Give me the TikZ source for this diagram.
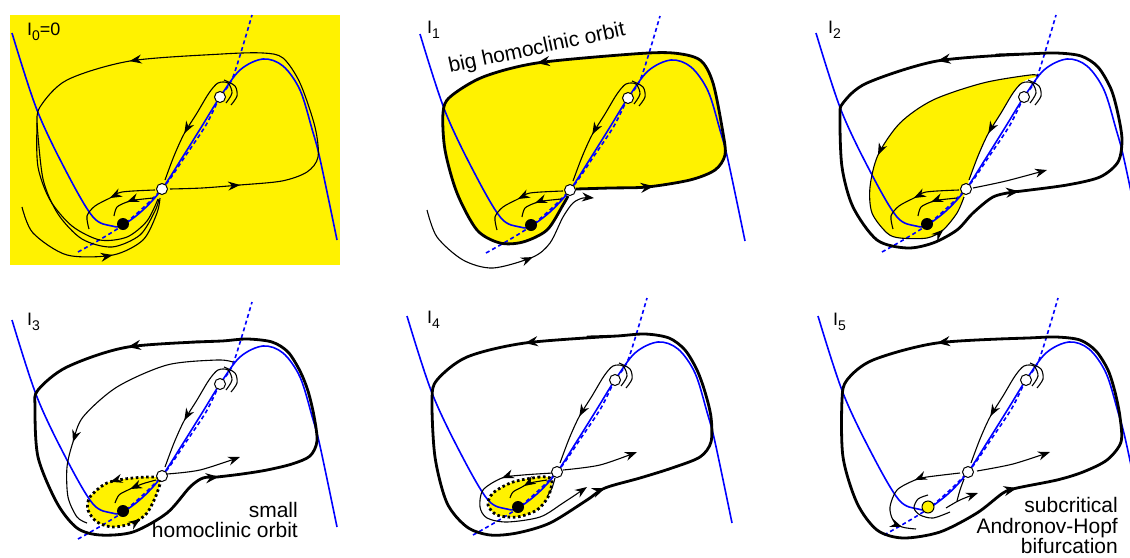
\documentclass[tikz,border=0pt]{standalone}
\usepackage{fontspec}
\setmainfont{Liberation Sans}
\usetikzlibrary{arrows.meta,decorations.markings}
\tikzset{
  bluecurve/.style={draw=blue, line width=1.6pt},
  dashblue/.style={draw=blue, line width=1.6pt, dash pattern=on 4pt off 3pt},
  traj/.style={draw=black, line width=1.1pt},
  bigorbit/.style={draw=black, line width=2.8pt},
  dotorbit/.style={draw=black, line width=2.8pt, dash pattern=on 2.6pt off 2.6pt},
  ah/.tip={Stealth[length=12pt,width=9pt]},
  ahb/.tip={Stealth[length=13pt,width=10pt]},
  arr/.style={postaction={decorate, decoration={markings, mark=at position #1 with {\arrow{ah}}}}},
  arrr/.style 2 args={postaction={decorate, decoration={markings, mark=at position #1 with {\arrow{ah}}, mark=at position #2 with {\arrow{ah}}}}},
  barrr/.style 2 args={postaction={decorate, decoration={markings, mark=at position #1 with {\arrow{ahb}}, mark=at position #2 with {\arrow{ahb}}}}},
  fp/.style={circle, draw=black, line width=1pt, minimum size=11pt, inner sep=0pt, fill=white},
  dotn/.style={circle, fill=black, minimum size=12pt, inner sep=0pt},
  lbl/.style={font=\fontsize{21}{21}\selectfont, inner sep=0pt},
  ilbl/.style={font=\fontsize{18}{18}\selectfont, inner sep=0pt},
}
\newcommand{\Ilab}[1]{I\raisebox{-5pt}{\fontsize{14}{14}\selectfont #1}}
\newcommand{\pNull}{%
  \draw[bluecurve] plot[smooth, tension=0.55] coordinates {(-150,-156) (-125,-79) (-95,-16) (-69,28) (-50,37) (-39,36) (-19,21) (0,0) (20,-31) (40,-63) (58,-92) (78,-119) (101,-130) (121,-123) (138,-99) (150,-60) (158,-30) (175,51)};
  \draw[dashblue] plot[smooth] coordinates {(-84,63) (-39,36) (0,0) (24,-34) (44,-64) (58,-92) (71,-112) (90,-174)};
}
\newcommand{\pUman}{%
  \draw[traj, arr=0.65] plot[smooth] coordinates {(64,-86) (70,-96) (66,-106) (56,-106) (47,-96) (35,-76) (22,-55) (12,-33) (3,-9)};
  \draw[traj] plot[smooth] coordinates {(62,-109) (73,-103) (75,-93) (69,-84)};
}
\newcommand{\pArcs}{%
  \draw[traj, arr=0.52] plot[smooth] coordinates {(-7,1) (-40,3) (-52,9) (-67,17) (-75,27) (-73,40)};
  \draw[traj, arr=0.56] plot[smooth] coordinates {(-9,9) (-27,11) (-35,13) (-45,18) (-48,27)};
}
\begin{document}
\begin{tikzpicture}[x=1pt,y=-1pt]
\useasboundingbox (0,0) rectangle (1130,557);
\fill[yellow] (10,15) rectangle (340,265);

% ---------- panel I0 ----------
\begin{scope}[shift={(162,189)}, name prefix=a-]
\pNull
\draw[traj, arrr={0.092}{0.55}] plot[smooth] coordinates {(8,0) (40,-1) (78,-4) (120,-8) (145,-17) (156,-32) (153,-62) (138,-106) (121,-131) (101,-136) (60,-135) (-32,-128) (-95,-109) (-122,-82) (-125,-62) (-124,-22) (-112,11) (-90,37) (-62,51) (-35,48) (-15,32) (-4,10)};
\draw[traj] plot[smooth] coordinates {(-125,-66) (-119,-10) (-104,25) (-80,50) (-50,58) (-22,46) (-7,22) (-3,10)};
\draw[traj, arr=0.59] plot[smooth] coordinates {(-140,18) (-129,44) (-95,66) (-49,66) (-19,51) (-5,24) (-2,9)};
\pArcs
\pUman
\node[fp] (s) at (0,0) {};
\node[fp] (u) at (58,-92) {};
\node[dotn] (d) at (-39,35) {};
\end{scope}
\node[ilbl, anchor=base west] (l0) at (27,35) {\Ilab{0}=0};

% ---------- panel I1 ----------
\begin{scope}[shift={(570,190)}, name prefix=b-]
\fill[yellow] plot[smooth cycle] coordinates {(0,0) (40,-2) (77,-3) (120,-10) (145,-20) (155,-35) (153,-57) (143,-107) (130,-130) (103,-137) (63,-136) (-33,-127) (-87,-113) (-120,-93) (-127,-77) (-125,-40) (-113,3) (-93,40) (-70,53) (-47,52) (-23,40) (-7,15)};
\pNull
\draw[traj, arr=0.6, -{ah}] plot[smooth] coordinates {(-143,20) (-133,47) (-107,70) (-77,78) (-37,67) (-20,53) (-7,27) (3,13) (13,8) (24,8)};
\pArcs
\pUman
\draw[bigorbit, barrr={0.1}{0.546}] plot[smooth] coordinates {(6,-1) (40,-2) (77,-3) (120,-10) (145,-20) (155,-35) (153,-57) (143,-107) (130,-130) (103,-137) (63,-136) (-33,-127) (-87,-113) (-120,-93) (-127,-77) (-125,-40) (-113,3) (-93,40) (-70,53) (-47,52) (-23,40) (-7,15) (-2,6)};
\node[fp] (s) at (0,0) {};
\node[fp] (u) at (58,-92) {};
\node[dotn] (d) at (-39,35) {};
\end{scope}
\node[ilbl, anchor=base west] (l1) at (427,33) {\Ilab{1}};
\node[lbl, rotate=12] (bho) at (537,49) {big homoclinic orbit};

% ---------- panel I2 ----------
\begin{scope}[shift={(966,189)}, name prefix=c-]
\fill[yellow] plot[smooth cycle] coordinates {(72,-113) (64,-114) (17,-106) (-33,-89) (-66,-66) (-88,-34) (-96,-2) (-94,24) (-79,44) (-66,49) (-39,49) (-23,41) (-9,24) (0,2) (3,-9) (12,-33) (22,-55) (35,-76) (47,-96) (58,-108)};
\pNull
\draw[traj, arrr={0.507}{0.895}] plot[smooth] coordinates {(72,-113) (64,-114) (17,-106) (-33,-89) (-66,-66) (-88,-34) (-96,-2) (-94,24) (-79,44) (-66,49) (-39,49) (-23,41) (-9,24) (-2,8)};
\pArcs
\pUman
\draw[traj, -{ah}] plot[smooth] coordinates {(7,-1) (40,-8) (81,-19)};
\draw[bigorbit, barrr={0.109}{0.617}] plot[smooth] coordinates {(60,-135) (-29,-128) (-99,-106) (-123,-86) (-126,-72) (-124,-22) (-113,18) (-89,51) (-59,59) (-33,54) (-9,41) (7,24) (27,8) (47,3) (56,2) (101,-4) (134,-12) (152,-27) (156,-49) (152,-75) (145,-100) (132,-122) (115,-133) (90,-136) (60,-135) (30,-134)};
\node[fp] (s) at (0,0) {};
\node[fp] (u) at (58,-92) {};
\node[dotn] (d) at (-39,35) {};
\end{scope}
\node[ilbl, anchor=base west] (l2) at (828,33) {\Ilab{2}};

% ---------- panel I3 ----------
\begin{scope}[shift={(162,476)}, name prefix=d-]
\fill[yellow] plot[smooth cycle] coordinates {(-3,2) (-29,2) (-55,7) (-72,21) (-74,34) (-65,46) (-49,51) (-29,47) (-15,37) (-5,17)};
\pNull
\draw[traj, arr=0.684] plot[smooth] coordinates {(71,-114) (55,-116) (5,-111) (-45,-89) (-79,-59) (-89,-34) (-95,-9) (-94,21) (-85,41) (-75,47)};
\draw[traj, arr=0.56] plot[smooth] coordinates {(-6,4) (-20,8) (-34,14) (-43,19) (-47,27)};
\pUman
\draw[traj, -{ah}] plot[smooth] coordinates {(5,-2) (38,-6) (78,-19)};
\draw[dotorbit, arrr={0.25}{0.76}] plot[smooth cycle] coordinates {(-5,17) (-3,2) (-29,2) (-55,7) (-72,21) (-74,34) (-65,46) (-49,51) (-29,47) (-15,37)};
\draw[bigorbit, barrr={0.116}{0.625}] plot[smooth] coordinates {(60,-135) (-34,-129) (-95,-109) (-124,-86) (-127,-69) (-124,-19) (-105,27) (-85,52) (-62,59) (-29,56) (5,37) (28,11) (41,2) (55,1) (80,-2) (105,-6) (130,-12) (148,-20) (155,-35) (152,-60) (146,-85) (138,-105) (126,-124) (110,-134) (85,-137) (60,-135) (30,-134)};
\node[fp] (s) at (0,0) {};
\node[fp] (u) at (58,-92) {};
\node[dotn] (d) at (-39,35) {};
\end{scope}
\node[ilbl, anchor=base west] (l3) at (27,325) {\Ilab{3}};
\node[lbl, anchor=base east] (t3a) at (298,517) {small};
\node[lbl, anchor=base east] (t3b) at (298,537) {homoclinic orbit};

% ---------- panel I4 ----------
\begin{scope}[shift={(557,472)}, name prefix=e-]
\fill[yellow] plot[smooth cycle] coordinates {(-7,6) (-17,5) (-44,10) (-64,21) (-69,33) (-60,43) (-40,45) (-20,38) (-9,25) (-5,11)};
\pNull
\draw[traj, arr=0.24, -{ah}] plot[smooth] coordinates {(-4,1) (-34,3) (-55,6) (-74,18) (-77,35) (-70,46) (-50,50) (-17,45) (6,31) (30,15)};
\draw[traj, arr=0.56] plot[smooth] coordinates {(-10,8) (-27,11) (-35,15) (-44,20) (-47,26)};
\draw[traj] plot[smooth] coordinates {(-2,6) (-5,16) (-9,23)};
\pUman
\draw[traj, -{ah}] plot[smooth] coordinates {(6,-2) (43,-7) (80,-20)};
\draw[dotorbit] plot[smooth cycle] coordinates {(-7,6) (-17,5) (-44,10) (-64,21) (-69,33) (-60,43) (-40,45) (-20,38) (-9,25) (-5,11)};
\draw[bigorbit, barrr={0.113}{0.61}] plot[smooth] coordinates {(60,-136) (-32,-129) (-90,-115) (-120,-92) (-125,-72) (-122,-15) (-110,31) (-90,55) (-67,63) (-40,61) (-7,51) (30,28) (48,16) (83,6) (115,-4) (143,-15) (154,-30) (154,-55) (148,-80) (140,-102) (128,-122) (112,-134) (88,-138) (60,-136) (30,-135)};
\node[fp] (s) at (0,0) {};
\node[fp] (u) at (58,-92) {};
\node[dotn] (d) at (-39,35) {};
\end{scope}
\node[ilbl, anchor=base west] (l4) at (427,323) {\Ilab{4}};

% ---------- panel I5 ----------
\begin{scope}[shift={(968,472)}, name prefix=f-]
\pNull
\draw[traj, arrr={0.37}{0.886}] plot[smooth] coordinates {(-8,1) (-41,5) (-53,8) (-71,18) (-78,35) (-75,48) (-66,55) (-52,57)};
\draw[traj] plot[smooth] coordinates {(-40,23) (-50,27) (-54,36) (-48,43) (-35,46) (-18,40)};
\draw[traj, -{ah}] plot[smooth] coordinates {(-22,36) (-8,28) (10,21)};
\draw[traj] plot[smooth] coordinates {(-4,7) (-8,18) (-11,29)};
\pUman
\draw[traj, -{ah}] plot[smooth] coordinates {(9,-1) (45,-8) (82,-20)};
\draw[bigorbit, barrr={0.111}{0.615}] plot[smooth] coordinates {(60,-134) (-31,-129) (-95,-112) (-121,-92) (-126,-72) (-125,-15) (-111,31) (-91,58) (-65,66) (-28,60) (9,41) (35,21) (49,16) (89,8) (115,0) (139,-12) (153,-30) (152,-55) (147,-80) (140,-102) (128,-121) (112,-132) (88,-135) (60,-134) (30,-133)};
\node[fp] (s) at (0,0) {};
\node[fp] (u) at (58,-92) {};
\node[circle, fill=yellow, draw=black, line width=1pt, minimum size=12pt, inner sep=0pt] (d) at (-40,35) {};
\end{scope}
\node[ilbl, anchor=base west] (l5) at (833,325) {\Ilab{5}};
\node[lbl, anchor=base east] (t5a) at (1118,512) {subcritical};
\node[lbl, anchor=base east] (t5b) at (1118,533) {Andronov-Hopf};
\node[lbl, anchor=base east] (t5c) at (1118,553) {bifurcation};
\end{tikzpicture}
\end{document}
